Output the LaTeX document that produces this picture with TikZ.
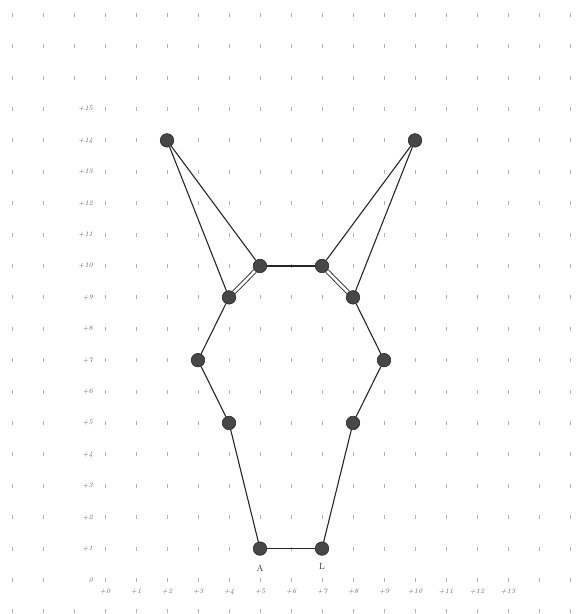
\documentclass[tikz,border=0pt]{standalone}
\usetikzlibrary{backgrounds}
\begin{document}
\begin{tikzpicture}[x=31pt,y=31.4pt,
  pt/.style={circle,fill=black!72,draw=black!85,line width=0.6pt,inner sep=0pt,minimum size=13.5pt},
  edge/.style={draw=black!85,line width=1.1pt},
  dbl/.style={draw=black!85,line width=0.9pt,double=white,double distance=2.6pt},
  gtick/.style={draw=black!30,line width=0.6pt},
  ylab/.style={font=\scriptsize\itshape,text=black!60,anchor=east,inner sep=1pt},
  xlab/.style={font=\scriptsize\itshape,text=black!60,inner sep=1pt},
  ptlab/.style={font=\small,text=black!80,inner sep=0pt}]
\useasboundingbox (-3.387,-1.083) rectangle (15.516,18.471);
% points
\node[pt] (A)  at (5,1) {};
\node[pt] (B)  at (7,1) {};
\node[pt] (r1) at (8,5) {};
\node[pt] (r2) at (9,7) {};
\node[pt] (r3) at (8,9) {};
\node[pt] (r4) at (7,10) {};
\node[pt] (re) at (10,14) {};
\node[pt] (l4) at (5,10) {};
\node[pt] (le) at (2,14) {};
\node[pt] (l3) at (4,9) {};
\node[pt] (l2) at (3,7) {};
\node[pt] (l1) at (4,5) {};
\node[ptlab] (la) at (5,0.38) {A};
\node[ptlab] (lb) at (7,0.44) {L};
% axis labels
\node[ylab] (y0) at (-0.35,0) {0};
\foreach \y in {1,...,15}{
  \node[ylab] (y\y) at (-0.35,\y) {+\y};
}
\foreach \x in {0,...,13}{
  \node[xlab] (x\x) at (\x,-0.38) {+\x};
}
\begin{pgfonlayer}{background}
  % grid of tick marks
  \foreach \x in {-3,...,15}{
    \foreach \y in {-1,...,18}{
      \pgfmathtruncatemacro{\skipit}{(\x==-1)&&(\y>-1)&&(\y<16) ? 1 : 0}
      \ifnum\skipit=0
        \draw[gtick] (\x,\y) ++(0,-2pt) -- ++(0,4pt);
      \fi
    }
  }
  \draw[edge] (A) -- (B);
  \draw[edge] (B) -- (r1);
  \draw[edge] (r1) -- (r2);
  \draw[edge] (r2) -- (r3);
  \draw[edge] (r3) -- (re);
  \draw[edge] (re) -- (r4);
  \draw[edge] (r4) -- (l4);
  \draw[edge] (l4) -- (le);
  \draw[edge] (le) -- (l3);
  \draw[edge] (l3) -- (l2);
  \draw[edge] (l2) -- (l1);
  \draw[edge] (l1) -- (A);
  \draw[dbl] (l3) -- (l4);
  \draw[dbl] (r3) -- (r4);
\end{pgfonlayer}
\end{tikzpicture}
\end{document}
